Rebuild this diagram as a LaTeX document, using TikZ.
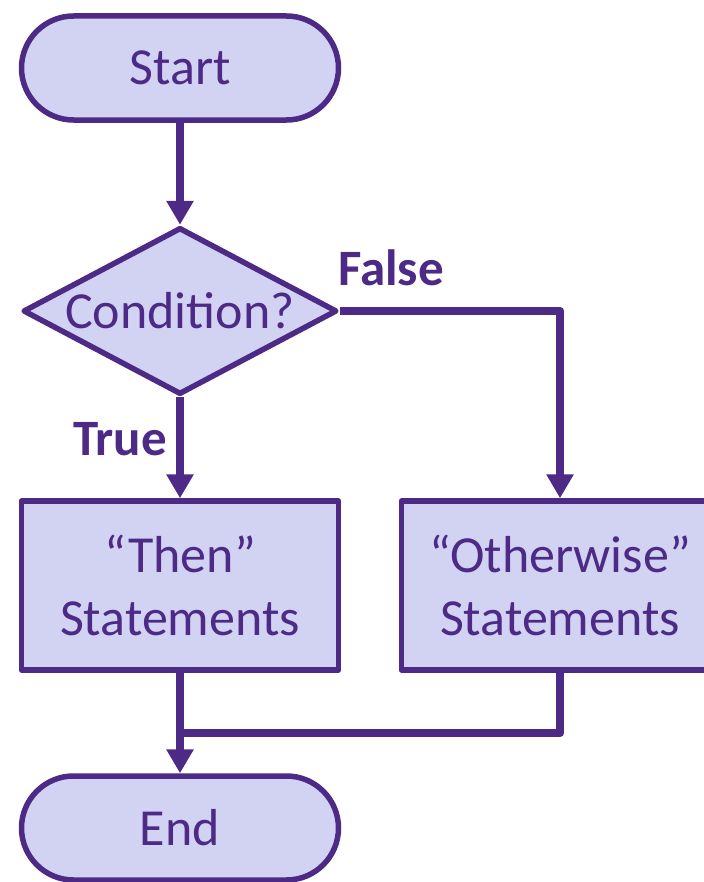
\documentclass[tikz,border=0pt]{standalone}
\usepackage{fontspec}
\setmainfont{Carlito}
\usetikzlibrary{shapes.geometric,arrows.meta}
\definecolor{fc}{RGB}{76,42,134}
\definecolor{fillc}{RGB}{210,210,243}
\begin{document}
\begin{tikzpicture}[x=1bp,y=-1bp,
  shapebase/.style={draw=fc,fill=fillc,line width=5.5bp,line join=round,text=fc,
    font=\fontsize{52bp}{63bp}\selectfont,inner sep=0pt},
  terminal/.style={shapebase,rectangle,rounded corners=52bp,minimum width=317bp,minimum height=104bp},
  process/.style={shapebase,rectangle,align=center,minimum width=317bp,minimum height=169bp},
  decision/.style={shapebase,diamond,minimum width=314bp,minimum height=167bp},
  conn/.style={draw=fc,line width=8.5bp,line join=round},
  arr/.style={conn,-{Triangle[width=26bp,length=24bp]}},
  lbl/.style={text=fc,font=\fontsize{51bp}{63bp}\selectfont\bfseries,inner sep=0pt,anchor=base}]
\useasboundingbox (0,0) rectangle (704,882);
\clip (0,0) rectangle (704,882);
\node[terminal] (start) at (180,68) {Start};
\node[decision] (dec) at (180,311) {\makebox[0pt]{Condition?}};
\node[process] (then) at (180,585.5) {“Then”\\Statements};
\node[process] (other) at (560,585.5) {“Otherwise”\\Statements};
\node[terminal] (end) at (180,828) {End};
\coordinate (merge) at (180,733);
\node[lbl] (false) at (391,285) {False};
\node[lbl] (true) at (120,455) {True};
\draw[arr] (start.south) -- (dec.north);
\draw[arr] (dec.south) -- (then.north);
\draw[arr] (dec.east) -| (other.north);
\draw[arr] (then.south) -- (end.north);
\draw[conn] (other.south) |- (merge);
\end{tikzpicture}
\end{document}
